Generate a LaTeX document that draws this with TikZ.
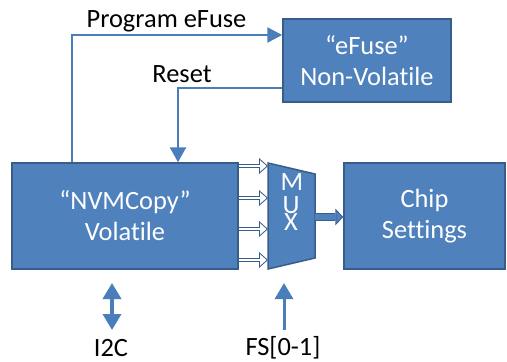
\documentclass[tikz,border=0pt]{standalone}
\usepackage{fontspec}
\setmainfont{Carlito}[Ligatures=CommonOff]
\usetikzlibrary{arrows.meta}

\definecolor{boxfill}{HTML}{4F81BD}
\definecolor{boxedge}{HTML}{385D8A}
\definecolor{wirecol}{HTML}{4A7EBB}

\begin{document}
\begin{tikzpicture}[x=1pt, y=-1pt,
    block/.style={draw=boxedge, fill=boxfill, line width=1.5pt, text=white, align=center, inner sep=0pt, font=\fontsize{26.4}{31}\selectfont},
    wire/.style={draw=wirecol, line width=2.5pt},
    lbl/.style={font=\fontsize{26.4}{31}\selectfont, inner sep=0pt},
    muxtext/.style={text=white, inner sep=0pt, anchor=base, font=\fontsize{26.4}{31}\selectfont},
    hollowarrow/.style={draw=white, line width=2.5pt, shorten >=1.5pt, -{Triangle[length=6.5pt, width=11.6pt, line width=0pt]},
        preaction={draw=boxedge, line width=4.5pt, shorten >=0pt, -{Triangle[length=9pt, width=16pt, line width=0pt]}}},
    fatarrow/.style={draw=boxfill, line width=6pt, shorten >=1.4pt, -{Triangle[length=5.6pt, width=12pt, line width=0pt]},
        preaction={draw=boxedge, line width=8pt, shorten >=0pt, -{Triangle[length=8pt, width=17pt, line width=0pt]}}}]
    \useasboundingbox (0,0) rectangle (507,362);

    % boxes
    \node[block, minimum width=226pt, minimum height=106pt] (nvm) at (125,216) {“NVMCopy”\\Volatile};
    \node[block, minimum width=168pt, minimum height=83pt] (efuse) at (367,60.5) {“eFuse”\\Non-Volatile};
    \node[block, minimum width=161pt, minimum height=106pt] (chip) at (424.5,216) {Chip\\Settings};

    % mux inputs
    \foreach \y [count=\i] in {166,198,229,260}
        \coordinate (in\i) at (268,\y);
    \foreach \i in {1,...,4}
        \draw[hollowarrow] (nvm.east |- in\i) -- (in\i);

    \filldraw[draw=boxedge, fill=boxfill, line width=1.5pt] (268,163) -- (315,174) -- (315,258) -- (268,269) -- cycle;
    \node[muxtext] (muxm) at (292,190) {M};
    \node[muxtext] (muxu) at (291,213) {U};
    \node[muxtext] (muxx) at (291,230) {X};

    \coordinate (muxout) at (315,217);
    \draw[fatarrow] (muxout) -- (chip.west |- muxout);

    % eFuse loop
    \coordinate (prog) at (72,35);
    \coordinate (rst) at (178,88);
    \draw[wire, -{Triangle[length=15pt, width=15pt]}] (nvm.north -| prog) -- (prog) -- (efuse.west |- prog);
    \draw[wire, -{Triangle[length=15pt, width=16pt]}] (efuse.west |- rst) -- (rst) -- (nvm.north -| rst);
    \node[lbl, anchor=base] (lblprog) at (166.5,27) {Program eFuse};
    \node[lbl, anchor=base] (lblreset) at (182,82) {Reset};

    % inputs below
    \coordinate (i2ctop) at (112,283);
    \coordinate (i2cbot) at (112,330);
    \draw[wire, line width=3.5pt, {Triangle[length=16pt, width=18pt]}-{Triangle[length=16pt, width=18pt]}] (i2ctop) -- (i2cbot);
    \node[lbl, anchor=base] (lbli2c) at (111,356) {I2C};

    \coordinate (fstop) at (284,283);
    \coordinate (fsbot) at (284,330);
    \draw[wire, line width=3pt, -{Triangle[length=16pt, width=18pt]}] (fsbot) -- (fstop);
    \node[lbl, anchor=base] (lblfs) at (283,355) {FS[0-1]};
\end{tikzpicture}
\end{document}
